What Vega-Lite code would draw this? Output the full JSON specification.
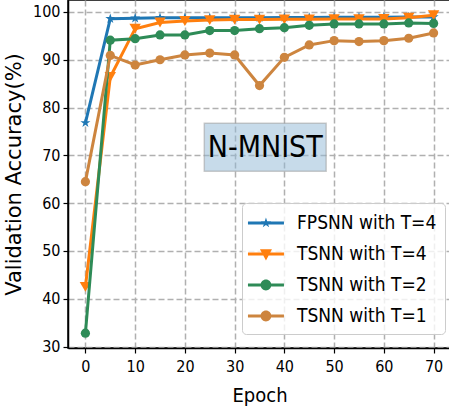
{
  "$schema": "https://vega.github.io/schema/vega-lite/v6.json",
  "width": 383,
  "height": 348,
  "autosize": {"type": "none"},
  "padding": {"left": 68, "top": 0, "right": 0, "bottom": 64},
  "background": "white",
  "config": {
    "view": {"stroke": "black", "strokeWidth": 1.5},
    "font": "DejaVu Sans Condensed",
    "axis": {
      "grid": true,
      "gridDash": [6, 3],
      "gridColor": "#b0b0b0",
      "gridWidth": 1.5,
      "domainColor": "black",
      "domainWidth": 1.5,
      "tickColor": "black",
      "tickSize": 5,
      "tickWidth": 1.2,
      "labelFont": "DejaVu Sans Condensed",
      "labelFontSize": 16,
      "labelColor": "black",
      "titleColor": "black",
      "titleFontWeight": "normal"
    },
    "legend": {
      "orient": "none",
      "legendX": 174,
      "legendY": 203,
      "padding": 8,
      "fillColor": "rgba(255,255,255,0.8)",
      "strokeColor": "#cccccc",
      "cornerRadius": 4,
      "labelFont": "DejaVu Sans Condensed",
      "labelFontSize": 19,
      "labelColor": "black",
      "labelOffset": 23,
      "labelBaseline": "middle",
      "symbolSize": 576,
      "rowPadding": 9,
      "title": null
    }
  },
  "layer": [
    {
      "data": {"values": [{"x1": 23.9, "x2": 48.4, "y1": 66.7, "y2": 76.7}]},
      "mark": {"type": "rect", "fill": "#8fb8d6", "fillOpacity": 0.5, "stroke": "#999999", "strokeOpacity": 0.5, "strokeWidth": 1.5},
      "encoding": {
        "x": {"field": "x1", "type": "quantitative", "title": "Epoch"},
        "x2": {"field": "x2"},
        "y": {"field": "y1", "type": "quantitative", "title": "Validation Accuracy(%)"},
        "y2": {"field": "y2"}
      }
    },
    {
      "data": {"values": [{"x": 36.15, "y": 71.5, "label": "N-MNIST"}]},
      "mark": {"type": "text", "font": "DejaVu Sans Condensed", "fontSize": 30, "color": "black", "baseline": "middle", "align": "center"},
      "encoding": {
        "x": {"field": "x", "type": "quantitative", "title": "Epoch"},
        "y": {"field": "y", "type": "quantitative", "title": "Validation Accuracy(%)"},
        "text": {"field": "label"}
      }
    },
    {
      "data": {
        "values": [
          {"series": "FPSNN with T=4", "epoch": 0, "acc": 76.8},
          {"series": "FPSNN with T=4", "epoch": 5, "acc": 98.6},
          {"series": "FPSNN with T=4", "epoch": 10, "acc": 98.7},
          {"series": "FPSNN with T=4", "epoch": 15, "acc": 98.8},
          {"series": "FPSNN with T=4", "epoch": 20, "acc": 98.8},
          {"series": "FPSNN with T=4", "epoch": 25, "acc": 98.8},
          {"series": "FPSNN with T=4", "epoch": 30, "acc": 98.8},
          {"series": "FPSNN with T=4", "epoch": 35, "acc": 98.8},
          {"series": "FPSNN with T=4", "epoch": 40, "acc": 98.85},
          {"series": "FPSNN with T=4", "epoch": 45, "acc": 98.85},
          {"series": "FPSNN with T=4", "epoch": 50, "acc": 98.9},
          {"series": "FPSNN with T=4", "epoch": 55, "acc": 98.9},
          {"series": "FPSNN with T=4", "epoch": 60, "acc": 98.9},
          {"series": "FPSNN with T=4", "epoch": 65, "acc": 98.95},
          {"series": "FPSNN with T=4", "epoch": 70, "acc": 98.95},
          {"series": "TSNN with T=4", "epoch": 0, "acc": 42.5},
          {"series": "TSNN with T=4", "epoch": 5, "acc": 86.4},
          {"series": "TSNN with T=4", "epoch": 10, "acc": 96.5},
          {"series": "TSNN with T=4", "epoch": 15, "acc": 97.8},
          {"series": "TSNN with T=4", "epoch": 20, "acc": 98.1},
          {"series": "TSNN with T=4", "epoch": 25, "acc": 98.3},
          {"series": "TSNN with T=4", "epoch": 30, "acc": 98.4},
          {"series": "TSNN with T=4", "epoch": 35, "acc": 98.4},
          {"series": "TSNN with T=4", "epoch": 40, "acc": 98.45},
          {"series": "TSNN with T=4", "epoch": 45, "acc": 98.45},
          {"series": "TSNN with T=4", "epoch": 50, "acc": 98.5},
          {"series": "TSNN with T=4", "epoch": 55, "acc": 98.5},
          {"series": "TSNN with T=4", "epoch": 60, "acc": 98.55},
          {"series": "TSNN with T=4", "epoch": 65, "acc": 98.8},
          {"series": "TSNN with T=4", "epoch": 70, "acc": 99.3},
          {"series": "TSNN with T=2", "epoch": 0, "acc": 32.8},
          {"series": "TSNN with T=2", "epoch": 5, "acc": 94.1},
          {"series": "TSNN with T=2", "epoch": 10, "acc": 94.4},
          {"series": "TSNN with T=2", "epoch": 15, "acc": 95.2},
          {"series": "TSNN with T=2", "epoch": 20, "acc": 95.2},
          {"series": "TSNN with T=2", "epoch": 25, "acc": 96.1},
          {"series": "TSNN with T=2", "epoch": 30, "acc": 96.1},
          {"series": "TSNN with T=2", "epoch": 35, "acc": 96.5},
          {"series": "TSNN with T=2", "epoch": 40, "acc": 96.7},
          {"series": "TSNN with T=2", "epoch": 45, "acc": 97.2},
          {"series": "TSNN with T=2", "epoch": 50, "acc": 97.5},
          {"series": "TSNN with T=2", "epoch": 55, "acc": 97.5},
          {"series": "TSNN with T=2", "epoch": 60, "acc": 97.5},
          {"series": "TSNN with T=2", "epoch": 65, "acc": 97.7},
          {"series": "TSNN with T=2", "epoch": 70, "acc": 97.6},
          {"series": "TSNN with T=1", "epoch": 0, "acc": 64.5},
          {"series": "TSNN with T=1", "epoch": 5, "acc": 90.9},
          {"series": "TSNN with T=1", "epoch": 10, "acc": 88.9},
          {"series": "TSNN with T=1", "epoch": 15, "acc": 90.0},
          {"series": "TSNN with T=1", "epoch": 20, "acc": 91.0},
          {"series": "TSNN with T=1", "epoch": 25, "acc": 91.4},
          {"series": "TSNN with T=1", "epoch": 30, "acc": 91.0},
          {"series": "TSNN with T=1", "epoch": 35, "acc": 84.6},
          {"series": "TSNN with T=1", "epoch": 40, "acc": 90.5},
          {"series": "TSNN with T=1", "epoch": 45, "acc": 93.1},
          {"series": "TSNN with T=1", "epoch": 50, "acc": 94.0},
          {"series": "TSNN with T=1", "epoch": 55, "acc": 93.8},
          {"series": "TSNN with T=1", "epoch": 60, "acc": 94.0},
          {"series": "TSNN with T=1", "epoch": 65, "acc": 94.5},
          {"series": "TSNN with T=1", "epoch": 70, "acc": 95.6}
        ]
      },
      "encoding": {
        "x": {
          "field": "epoch", "type": "quantitative", "title": "Epoch",
          "scale": {"domain": [-3.5, 73.5], "nice": false, "zero": false},
          "axis": {"values": [0, 10, 20, 30, 40, 50, 60, 70], "labelPadding": 5, "titleFont": "DejaVu Sans Condensed", "titleFontSize": 20, "titlePadding": 11}
        },
        "y": {
          "field": "acc", "type": "quantitative", "title": "Validation Accuracy(%)",
          "scale": {"domain": [29.7, 102.5], "nice": false, "zero": false},
          "axis": {"values": [30, 40, 50, 60, 70, 80, 90, 100], "labelPadding": 3, "titleFont": "DejaVu Sans", "titleFontSize": 21, "titlePadding": 8}
        },
        "color": {
          "field": "series", "type": "nominal",
          "scale": {
            "domain": ["FPSNN with T=4", "TSNN with T=4", "TSNN with T=2", "TSNN with T=1"],
            "range": ["#1f77b4", "#ff7f0e", "#2e8b57", "#cd853f"]
          },
          "legend": {
            "title": null,
            "encode": {
              "symbols": {
                "update": {
                  "fill": {"scale": "color", "field": "value"},
                  "fillOpacity": {"value": 1},
                  "opacity": {"value": 1},
                  "strokeWidth": {"value": 0},
                  "size": {"value": 576},
                  "shape": {"signal": "datum.value === 'FPSNN with T=4' ? 'M-1.17,-0.125H1.83V0.125H-1.17Z M0.33,-0.45L0.431,-0.139L0.758,-0.139L0.494,0.053L0.595,0.364L0.33,0.172L0.065,0.364L0.166,0.053L-0.098,-0.139L0.229,-0.139Z' : datum.value === 'TSNN with T=4' ? 'M-1.17,-0.125H1.83V0.125H-1.17Z M-0.17,-0.4L0.83,-0.4L0.33,0.55Z' : 'M-1.17,-0.125H1.83V0.125H-1.17Z M-0.12,0A0.45 0.45 0 1 1 0.78,0A0.45 0.45 0 1 1 -0.12,0Z'"}
                }
              }
            }
          }
        }
      },
      "layer": [
        {
          "transform": [{"filter": "datum.series === 'FPSNN with T=4'"}],
          "mark": {"type": "line", "strokeWidth": 3, "point": {"filled": true, "size": 110, "opacity": 1, "shape": "M0,-1L0.2245,-0.309L0.951,-0.309L0.363,0.118L0.588,0.809L0,0.382L-0.588,0.809L-0.363,0.118L-0.951,-0.309L-0.2245,-0.309Z"}}
        },
        {
          "transform": [{"filter": "datum.series === 'TSNN with T=4'"}],
          "mark": {"type": "line", "strokeWidth": 3, "point": {"filled": true, "size": 130, "opacity": 1, "shape": "triangle-down"}}
        },
        {
          "transform": [{"filter": "datum.series === 'TSNN with T=2'"}],
          "mark": {"type": "line", "strokeWidth": 3, "point": {"filled": true, "size": 85, "opacity": 1, "shape": "circle"}}
        },
        {
          "transform": [{"filter": "datum.series === 'TSNN with T=1'"}],
          "mark": {"type": "line", "strokeWidth": 3, "point": {"filled": true, "size": 85, "opacity": 1, "shape": "circle"}}
        }
      ]
    }
  ]
}
